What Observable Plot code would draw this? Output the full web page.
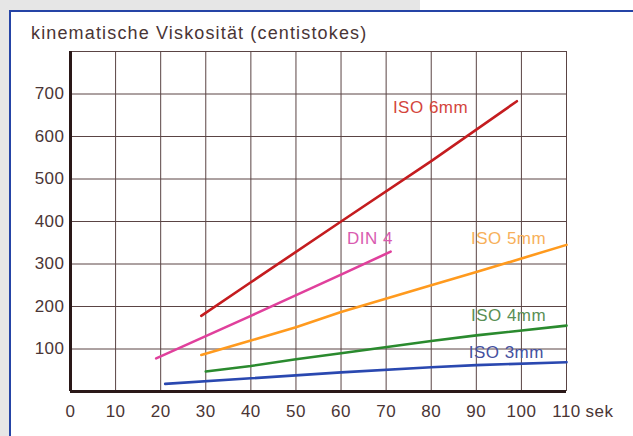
<!DOCTYPE html>
<html>
<head>
<meta charset="utf-8">
<script src="https://cdn.jsdelivr.net/npm/d3@7"></script>
<script src="https://cdn.jsdelivr.net/npm/@observablehq/plot@0.6"></script>
<style>
  html, body { margin: 0; padding: 0; background: #ffffff; }
  #page { position: relative; width: 633px; height: 436px; overflow: hidden; background: #ffffff; font-family: "Liberation Sans", Arial, sans-serif; }
  .gray { position: absolute; background: #e6e6e6; }
  .blue { position: absolute; background: #2544a6; }
  #title { position: absolute; left: 31px; top: 23px; font-size: 18px; letter-spacing: 1.15px; color: #4a3535; white-space: nowrap; }
  #chart { position: absolute; left: 0; top: 0; }
</style>
</head>
<body>
<div id="page">
  <div class="gray" style="left:0;top:0;width:420px;height:10px;"></div>
  <div class="gray" style="left:0;top:0;width:9px;height:436px;"></div>
  <div class="blue" style="left:9px;top:10px;width:624px;height:2px;"></div>
  <div class="blue" style="left:9px;top:10px;width:2px;height:426px;"></div>
  <div id="chart"></div>
  <div id="title">kinematische Viskosität (centistokes)</div>
</div>
<script>
// x: Auslaufzeit (sek), y: kinematische Viskosität (centistokes)
const xTicks = [0, 10, 20, 30, 40, 50, 60, 70, 80, 90, 100, 110];
const yTicks = [100, 200, 300, 400, 500, 600, 700];
const xGrid = [10, 20, 30, 40, 50, 60, 70, 80, 90, 100, 110];
const yGrid = [100, 200, 300, 400, 500, 600, 700, 800];

const iso6mm = [[29, 178], [40, 257], [60, 400], [80, 542], [99, 683]];
const din4   = [[19, 78], [40, 178], [60, 275], [71, 329]];
const iso5mm = [[29, 86], [40, 120], [50, 151], [60, 187], [80, 250], [90, 281], [110, 345]];
const iso4mm = [[30, 47], [40, 60], [50, 76], [60, 90], [80, 119], [90, 132], [110, 155]];
const iso3mm = [[21, 18], [40, 31], [60, 45], [80, 57], [90, 62], [110, 69]];

const seriesNames  = ["ISO 6mm", "DIN 4", "ISO 5mm", "ISO 4mm", "ISO 3mm"];
const seriesData   = [iso6mm, din4, iso5mm, iso4mm, iso3mm];
const lineColors   = ["#c41c1f", "#e0409c", "#ff9a1e", "#2a8a2e", "#2a48b0"];
const labelColors  = ["#d4453c", "#d95bb0", "#f7b05a", "#5a8f55", "#4450a0"];
const labelPos     = [[71.5, 669], [61.3, 359], [88.8, 359], [88.8, 179], [88.3, 92]];

const labels = seriesNames.map((name, i) => ({name, x: labelPos[i][0], y: labelPos[i][1], color: labelColors[i]}));

const gridColor = "#5a4444";
const inkColor = "#4a3535";

const plot = Plot.plot({
  width: 633,
  height: 436,
  marginLeft: 70,
  marginRight: 67,
  marginTop: 51,
  marginBottom: 45,
  style: {background: "transparent", fontFamily: "'Liberation Sans', Arial, sans-serif", overflow: "visible"},
  x: {domain: [0, 110]},
  y: {domain: [0, 800]},
  marks: [
    Plot.ruleX(xGrid, {stroke: gridColor, strokeWidth: 1, y1: 0, y2: 800}),
    Plot.ruleY(yGrid, {stroke: gridColor, strokeWidth: 1, x1: 0, x2: 110}),
    ...seriesData.map((d, i) => Plot.line(d, {x: p => p[0], y: p => p[1], stroke: lineColors[i], strokeWidth: 2.6})),
    Plot.ruleX([0], {stroke: "#2a1818", strokeWidth: 3, y1: 0, y2: 800}),
    Plot.ruleY([0], {stroke: "#2a1818", strokeWidth: 3, x1: 0, x2: 110}),
    Plot.text(labels, {x: "x", y: "y", text: "name", fill: d => d.color, textAnchor: "start", fontSize: 17, style: "letter-spacing:1.8px"}),
    Plot.axisY({ticks: yTicks, tickSize: 0, tickPadding: 6, fontSize: 17, label: null, color: inkColor}),
    Plot.axisX({ticks: xTicks, tickSize: 0, tickPadding: 13, fontSize: 17, label: null, color: inkColor}),
    Plot.text(["sek"], {x: () => 110, y: () => 0, text: d => d, dx: 19, dy: 20, textAnchor: "start", fontSize: 17, fill: inkColor})
  ]
});
plot.querySelectorAll("text").forEach(t => t.style.letterSpacing = t.style.letterSpacing || "0.5px");
document.getElementById("chart").appendChild(plot);
</script>
</body>
</html>
